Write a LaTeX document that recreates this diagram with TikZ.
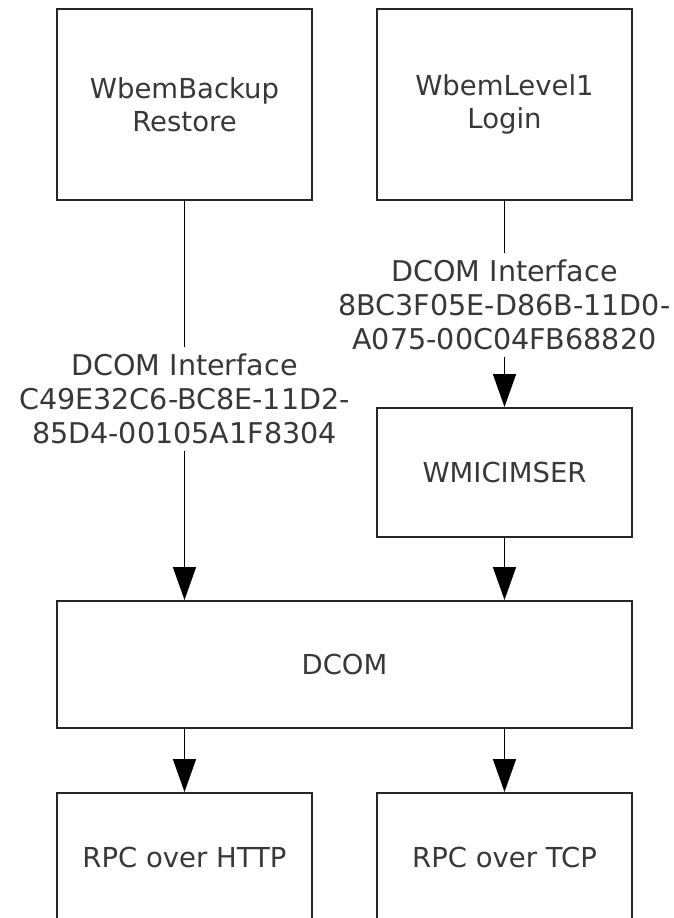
\documentclass[tikz,border=0pt]{standalone}
\usepackage{fontspec}
\setmainfont{DejaVu Sans}
\usetikzlibrary{arrows.meta}
\begin{document}
\begin{tikzpicture}[x=1pt,y=-1pt,
  txt/.style={font=\fontsize{27.5}{33.5}\selectfont, text=black!78, align=center},
  box/.style={txt, draw=black!85, line width=2pt, minimum width=255pt, inner sep=0pt},
  lbl/.style={txt, font=\fontsize{28.6}{33.8}\selectfont, inner xsep=0pt, inner ysep=7pt},
  conn/.style={line width=1.6pt, draw=black},
  arr/.style={conn, -{Triangle[length=33pt,width=23pt]}}
]
\useasboundingbox (0,0) rectangle (673,918);
\node[box, minimum height=191pt] (A) at (184.5,104.5) {WbemBackup\\Restore};
\node[box, minimum height=191pt] (B) at (504.5,104.5) {WbemLevel1\\Login};
\node[box, minimum height=129pt] (W) at (504.5,472.5) {WMICIMSER};
\node[box, minimum height=127pt, minimum width=575pt] (D) at (344.5,664.5) {DCOM};
\node[box, minimum height=128pt] (H) at (184.5,857) {RPC over HTTP};
\node[box, minimum height=128pt] (T) at (504.5,857) {RPC over TCP};
\node[lbl] (la) at (184.5,399) {DCOM Interface\\C49E32C6-BC8E-11D2-\\85D4-00105A1F8304};
\node[lbl] (lb) at (504.5,305) {DCOM Interface\\8BC3F05E-D86B-11D0-\\A075-00C04FB68820};
\draw[conn] (A) -- (la);
\draw[arr] (la) -- (la |- D.north);
\draw[conn] (B) -- (lb);
\draw[arr] (lb) -- (W);
\draw[arr] (W) -- (W |- D.north);
\draw[arr] (D.south -| H) -- (H);
\draw[arr] (D.south -| T) -- (T);
\end{tikzpicture}
\end{document}
